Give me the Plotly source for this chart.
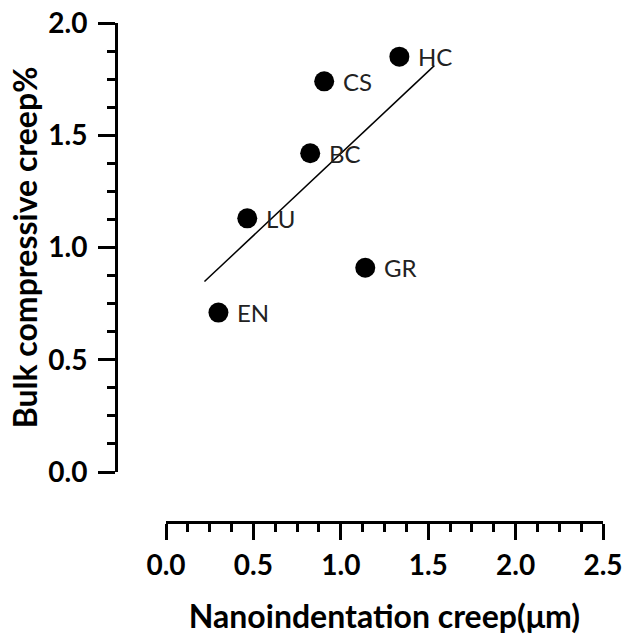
import numpy as np
import plotly.graph_objects as go

# ---- data ----
labels = ["EN", "LU", "BC", "CS", "GR", "HC"]
nano_creep = [0.30, 0.465, 0.825, 0.905, 1.14, 1.335]
bulk_creep = [0.71, 1.13, 1.42, 1.74, 0.91, 1.85]
fit_x_range = [0.22, 1.535]
x_range = [0.0, 2.5]
y_range = [0.0, 2.0]
major_step = 0.5
minor_step = 0.125

slope, intercept = np.polyfit(nano_creep, bulk_creep, 1)
fit_x = np.array(fit_x_range)
fit_y = slope * fit_x + intercept

W, H = 636, 635
ml, mr, mt, mb = 118, 33, 23, 95
pw = W - ml - mr
ph = H - mt - mb
y_axis_bottom_px = 472
x_axis_px = 521.5
x_axis_left_px = 166
px_per_unit = (W - mr - x_axis_left_px) / (x_range[1] - x_range[0])
x_main_min = x_range[0] - (x_axis_left_px - ml) / px_per_unit

FONT = "Lato"
fig = go.Figure()
# invisible carrier so the detached x axis subplot is built
fig.add_trace(go.Scatter(
    x=x_range, y=y_range, xaxis="x2", yaxis="y", mode="markers",
    marker=dict(opacity=0), hoverinfo="skip", showlegend=False,
))
fig.add_trace(go.Scatter(
    x=fit_x, y=fit_y, mode="lines",
    line=dict(color="black", width=1.5), hoverinfo="skip", showlegend=False,
))
fig.add_trace(go.Scatter(
    x=nano_creep, y=bulk_creep, mode="markers",
    marker=dict(color="black", size=20), showlegend=False,
))
for lab, xv, yv in zip(labels, nano_creep, bulk_creep):
    fig.add_annotation(x=xv, y=yv, xref="x", yref="y", text=lab, showarrow=False,
                       xanchor="left", yanchor="middle", xshift=17,
                       font=dict(family=FONT, size=24, color="#222"))

tickfont = dict(family=FONT, size=28, color="black", weight="bold")
titlefont = dict(family=FONT, size=32, color="black", weight="bold")


def minor_ticks(lo, hi):
    vals = np.arange(lo, hi + minor_step / 2, minor_step)
    return dict(ticks="outside", ticklen=8, tickwidth=3, tickcolor="black",
                tickmode="array", tickvals=list(vals))


fig.update_layout(
    width=W, height=H,
    margin=dict(l=ml, r=mr, t=mt, b=mb),
    paper_bgcolor="white", plot_bgcolor="rgba(0,0,0,0)",
    xaxis=dict(domain=[0, 1], range=[x_main_min, x_range[1]], visible=False,
               showgrid=False, zeroline=False, automargin=False),
    xaxis2=dict(domain=[(x_axis_left_px - ml) / pw, 1], range=x_range,
                anchor="free", position=(H - mb - x_axis_px) / ph, side="bottom",
                showline=True, linewidth=3, linecolor="black",
                ticks="outside", ticklen=16, tickwidth=3, tickcolor="black",
                tickmode="linear", tick0=0, dtick=major_step, tickformat=".1f", tickfont=tickfont,
                ticklabelstandoff=2, automargin=False,
                minor=minor_ticks(*x_range),
                showgrid=False, zeroline=False,
                title=dict(text="Nanoindentation creep(μm)", font=titlefont, standoff=29)),
    yaxis=dict(domain=[(H - mb - y_axis_bottom_px) / ph, 1], range=y_range,
               showline=True, linewidth=3, linecolor="black",
               ticks="outside", ticklen=17, tickwidth=3, tickcolor="black",
               tickmode="linear", tick0=0, dtick=major_step, tickformat=".1f", tickfont=tickfont,
               ticklabelstandoff=5, automargin=False,
               minor=minor_ticks(*y_range),
               showgrid=False, zeroline=False,
               title=dict(text="Bulk compressive creep%", font=titlefont, standoff=2)),
)
fig.write_html("out.html")
